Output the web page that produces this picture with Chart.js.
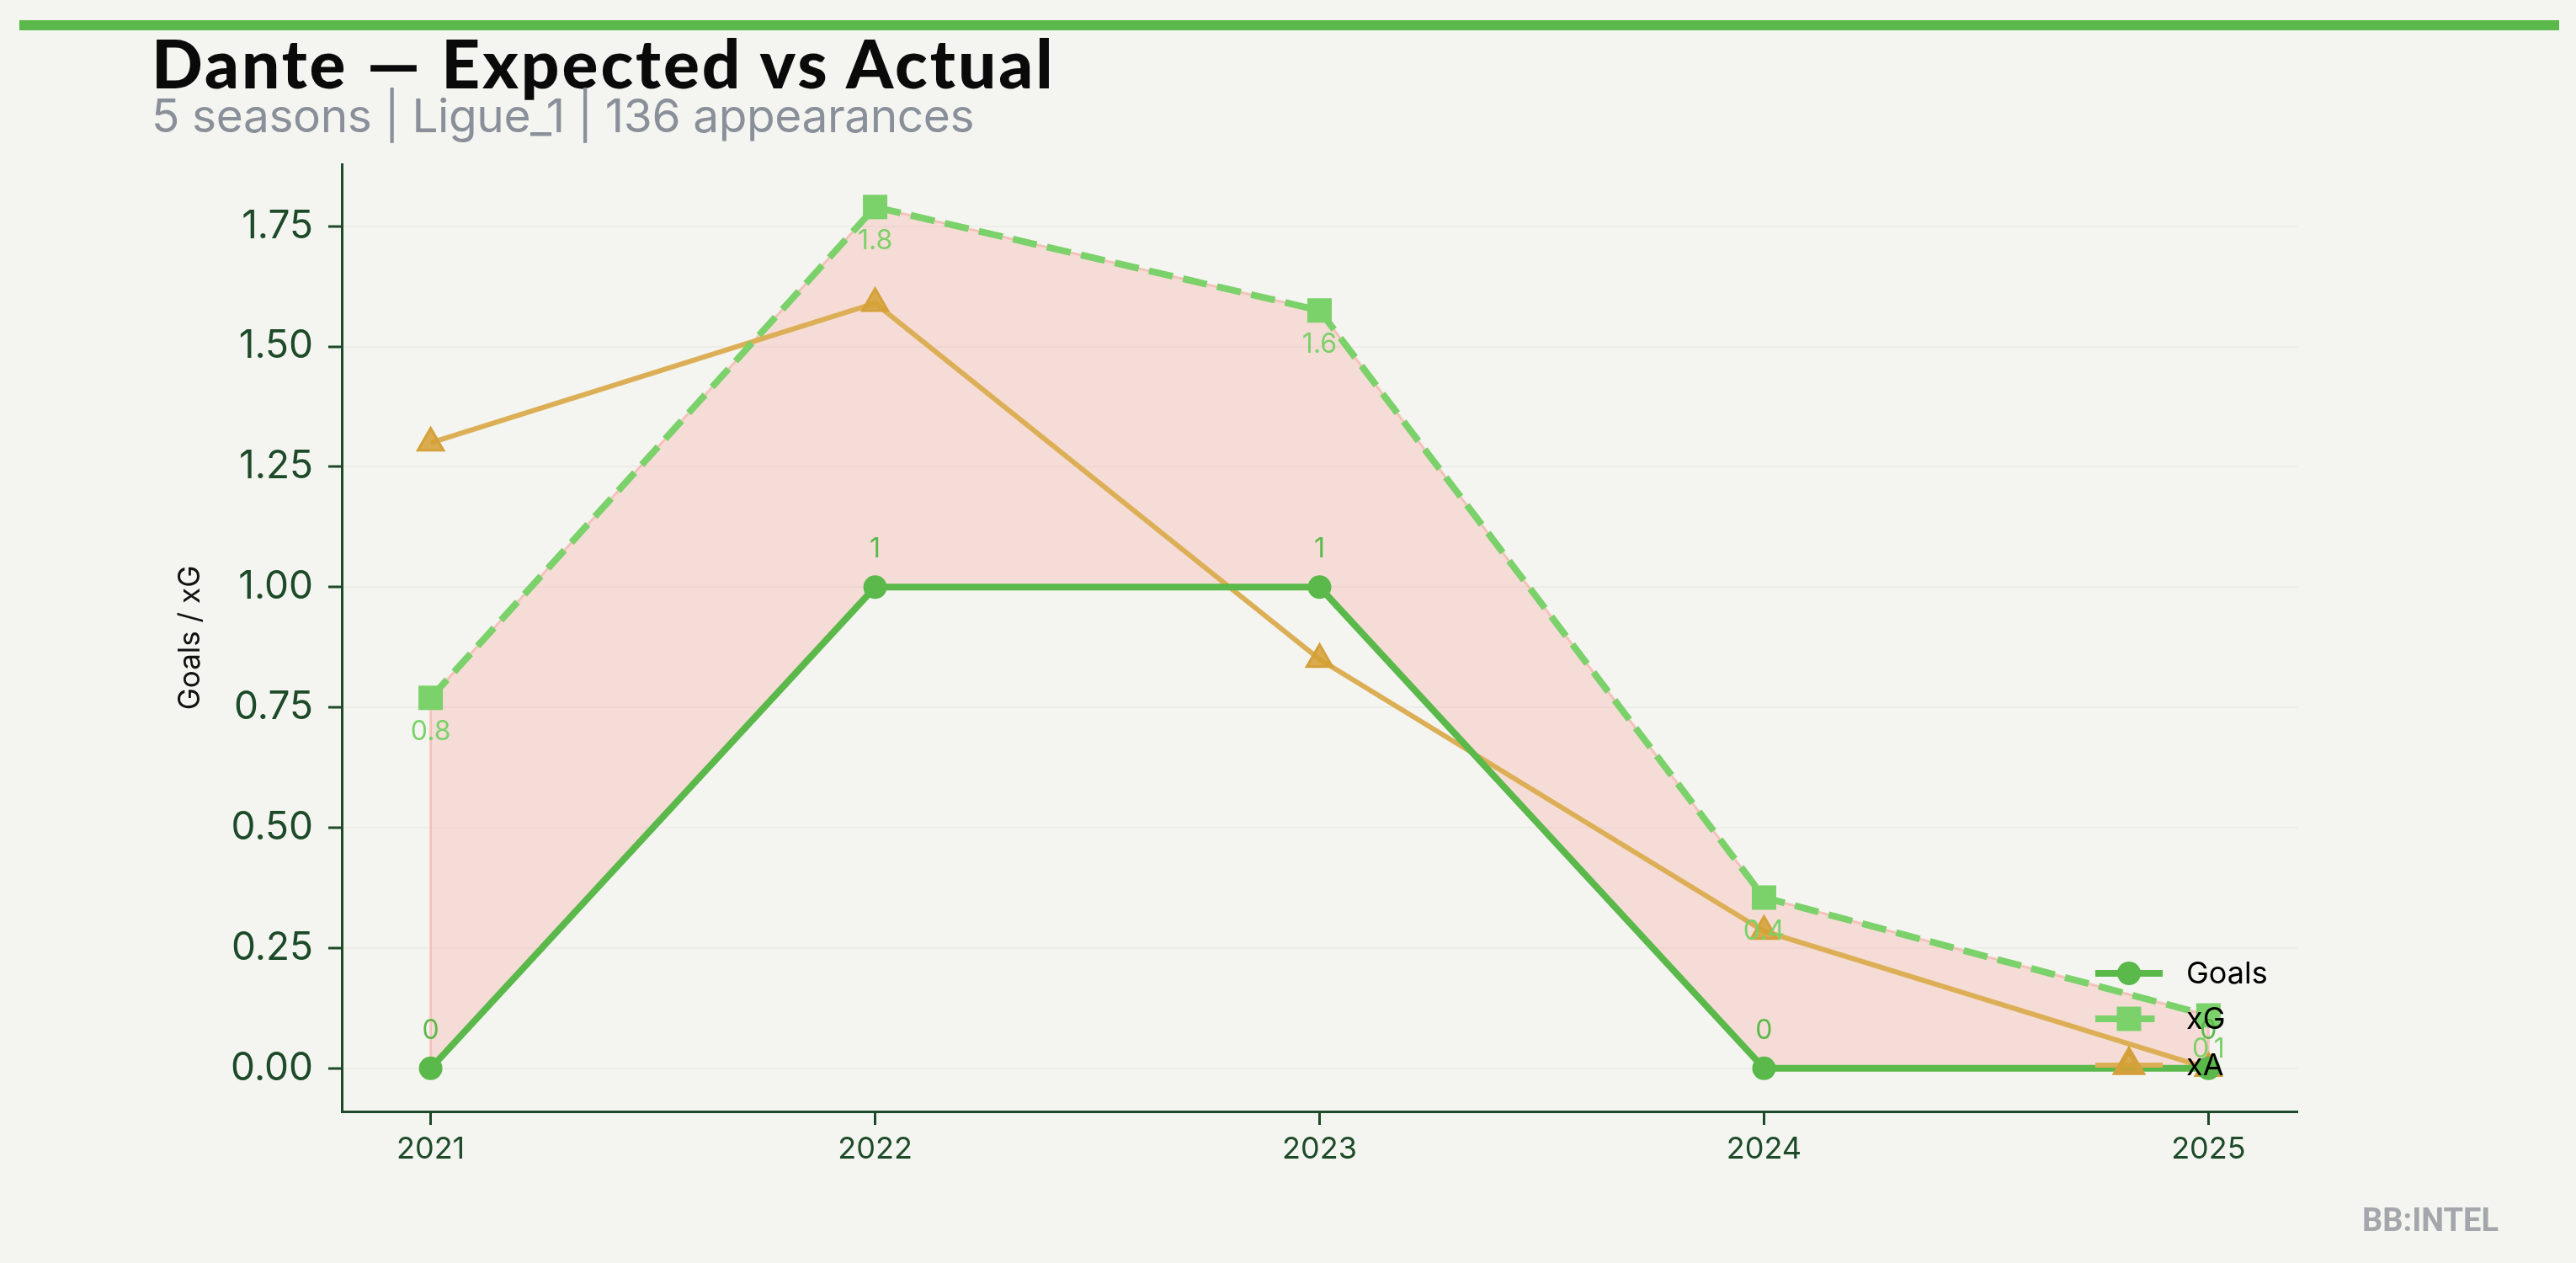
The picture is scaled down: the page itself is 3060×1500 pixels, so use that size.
<!DOCTYPE html>
<html>
<head>
<meta charset="utf-8">
<script src="https://cdn.jsdelivr.net/npm/chart.js@4/dist/chart.umd.min.js"></script>
<style>
  html, body { margin: 0; padding: 0; background: #f4f5f0; }
  #wrap { position: relative; width: 3060px; height: 1500px; overflow: hidden; }
  #bar { position: absolute; left: 23px; top: 24px; width: 3017px; height: 12px; background: #5ab94a; }
  #title { position: absolute; left: 180px; top: 34px; font: 900 80px Lato, sans-serif; letter-spacing: 3px; line-height: 1; color: #0a0a0a; white-space: nowrap; }
  #sub { position: absolute; left: 180px; top: 110px; font: 400 55px Inter, sans-serif; letter-spacing: -0.4px; line-height: 1; color: #8a909a; white-space: nowrap; }
  #mark { position: absolute; right: 92px; top: 1430px; font: 700 38px Roboto, sans-serif; line-height: 1; color: #a3a6ab; }
  canvas { position: absolute; left: 0; top: 0; }
</style>
</head>
<body>
<div id="wrap">
  <div id="bar"></div>
  <div id="title">Dante — Expected vs Actual</div>
  <div id="sub">5 seasons | Ligue_1 | 136 appearances</div>
  <canvas id="xgChart" width="3060" height="1500"></canvas>
  <div id="mark">BB:INTEL</div>
</div>
<script>
// Werte
const seasons = [2021, 2022, 2023, 2024, 2025];
const goals = [0, 1, 1, 0, 0];
const xG = [0.77, 1.79, 1.575, 0.355, 0.11];
const xA = [1.30, 1.59, 0.85, 0.285, 0.0];
const yTicks = [0, 0.25, 0.5, 0.75, 1.0, 1.25, 1.5, 1.75];

const gruen = "#5ab94a";
const hellgruen = "#7bd16a";
const gold = "#dcaf57";
const dunkel = "#1d4a28";

const punkte = (werte) => werte.map((v, i) => ({ x: seasons[i], y: v }));

// Rand der Fläche zwischen Goals und xG
const flaechenRand = {
    id: "flaechenRand",
    beforeDatasetsDraw(chart) {
        const oben = chart.getDatasetMeta(1).data;
        const unten = chart.getDatasetMeta(0).data;
        const ctx = chart.ctx;
        ctx.save();
        ctx.strokeStyle = "rgba(240,150,140,0.45)";
        ctx.lineWidth = 3;
        ctx.beginPath();
        oben.forEach((p, i) => (i ? ctx.lineTo(p.x, p.y) : ctx.moveTo(p.x, p.y)));
        for (let i = unten.length - 1; i >= 0; i--) ctx.lineTo(unten[i].x, unten[i].y);
        ctx.closePath();
        ctx.stroke();
        ctx.restore();
    },
};

// Beschriftungen an den Punkten (Goals oben, xG unten)
const wertLabels = {
    id: "wertLabels",
    afterDatasetsDraw(chart) {
        const ctx = chart.ctx;
        ctx.save();
        ctx.font = "32px Inter";
        ctx.textAlign = "center";
        ctx.textBaseline = "alphabetic";
        chart.getDatasetMeta(0).data.forEach((p, i) => {
            ctx.fillStyle = gruen;
            ctx.fillText(String(goals[i]), p.x, p.y - 35);
        });
        chart.getDatasetMeta(1).data.forEach((p, i) => {
            ctx.fillStyle = hellgruen;
            ctx.fillText(xG[i].toFixed(1), p.x, p.y + 50);
        });
        ctx.restore();
    },
};

// Legende innerhalb der Zeichenfläche, unten rechts
const innenLegende = {
    id: "innenLegende",
    afterDraw(chart) {
        const ctx = chart.ctx;
        const x0 = 2489, x1 = 2569, tx = 2597;
        const ys = [1156, 1210, 1265];
        ctx.save();
        chart.data.datasets.forEach((ds, i) => {
            const y = ys[i];
            ctx.strokeStyle = ds.borderColor;
            ctx.lineWidth = ds.borderWidth;
            ctx.setLineDash(ds.borderDash || []);
            ctx.beginPath();
            ctx.moveTo(x0, y);
            ctx.lineTo(x1, y);
            ctx.stroke();
            ctx.setLineDash([]);
            ctx.fillStyle = ds.pointBackgroundColor;
            ctx.strokeStyle = ds.pointBorderColor;
            Chart.helpers.drawPoint(ctx, {
                pointStyle: ds.pointStyle,
                radius: ds.pointRadius,
                borderWidth: ds.pointBorderWidth,
                rotation: 0,
            }, (x0 + x1) / 2, y);
            ctx.fillStyle = "#000";
            ctx.font = "36px Inter";
            ctx.textAlign = "left";
            ctx.textBaseline = "middle";
            ctx.fillText(ds.label, tx, y + 1);
        });
        ctx.restore();
    },
};

new Chart(document.getElementById("xgChart"), {
    type: "line",
    data: {
        datasets: [
            {
                label: "Goals",
                data: punkte(goals),
                borderColor: gruen,
                borderWidth: 8,
                pointStyle: "circle",
                pointRadius: 14,
                pointBackgroundColor: gruen,
                pointBorderColor: gruen,
                pointBorderWidth: 0,
                fill: false,
            },
            {
                label: "xG",
                data: punkte(xG),
                borderColor: hellgruen,
                borderWidth: 8,
                borderDash: [29, 12.5],
                pointStyle: "rect",
                pointRadius: 20.5,
                pointBackgroundColor: hellgruen,
                pointBorderColor: hellgruen,
                pointBorderWidth: 0,
                fill: {
                    target: 0,
                    above: "rgba(255,120,110,0.2)",
                    below: "rgba(255,120,110,0.2)",
                },
            },
            {
                label: "xA",
                data: punkte(xA),
                borderColor: gold,
                borderWidth: 6,
                pointStyle: "triangle",
                pointRadius: 17.5,
                pointBackgroundColor: "rgba(212,160,50,0.85)",
                pointBorderColor: "#d4a03a",
                pointBorderWidth: 3,
                fill: false,
            },
        ],
    },
    options: {
        responsive: false,
        animation: false,
        devicePixelRatio: 1,
        layout: {
            padding: { left: 205, right: 331, top: 195, bottom: 100 },
        },
        elements: { line: { tension: 0 } },
        scales: {
            x: {
                type: "linear",
                min: 2020.8,
                max: 2025.2,
                afterBuildTicks: (s) => {
                    s.ticks = seasons.map((v) => ({ value: v }));
                },
                afterFit: (s) => {
                    s.height = 80;
                },
                ticks: {
                    callback: (v) => String(v),
                    color: dunkel,
                    font: { family: "Inter", size: 36 },
                    padding: 8,
                    autoSkip: false,
                    maxRotation: 0,
                },
                grid: {
                    drawOnChartArea: false,
                    tickLength: 16,
                    tickWidth: 3,
                    tickColor: dunkel,
                },
                border: { color: dunkel, width: 3 },
            },
            y: {
                min: -0.0895,
                max: 1.879,
                afterBuildTicks: (s) => {
                    s.ticks = yTicks.map((v) => ({ value: v }));
                },
                afterFit: (s) => {
                    s.width = 201;
                },
                ticks: {
                    callback: (v) => v.toFixed(2),
                    color: dunkel,
                    font: { family: "Inter", size: 46 },
                    padding: 18,
                },
                grid: {
                    color: "rgba(0,0,0,0.03)",
                    lineWidth: 2,
                    tickLength: 16,
                    tickWidth: 3,
                    tickColor: dunkel,
                },
                border: { color: dunkel, width: 3 },
                title: {
                    display: true,
                    text: "Goals / xG",
                    color: "#111",
                    font: { family: "Inter", size: 35 },
                    padding: 0,
                },
            },
        },
        plugins: {
            legend: { display: false },
            tooltip: { enabled: false },
            filler: { drawTime: "beforeDatasetsDraw" },
        },
    },
    plugins: [flaechenRand, wertLabels, innenLegende],
});
</script>
</body>
</html>
